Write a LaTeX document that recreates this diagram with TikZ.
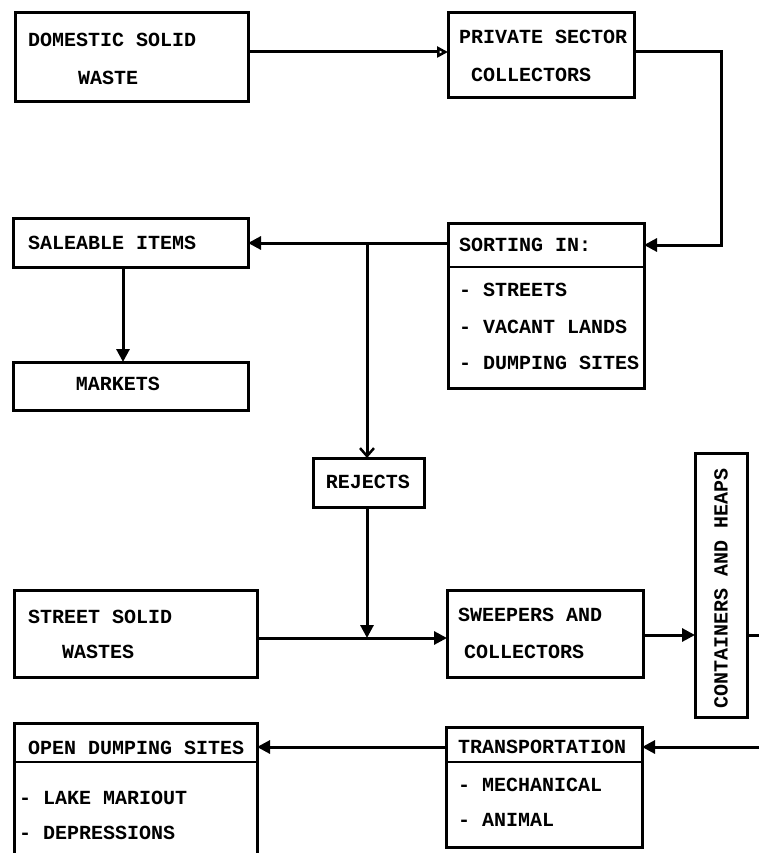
\documentclass[tikz,border=0pt]{standalone}
\usepackage{fontspec}
\newfontfamily\tw{Liberation Mono}
\usetikzlibrary{arrows.meta}
\begin{document}
\begin{tikzpicture}[x=1pt,y=-1pt,
  box/.style={draw, line width=3pt, rectangle, inner sep=0pt, outer sep=0pt},
  txt/.style={anchor=west, inner sep=0pt, font=\tw\bfseries\fontsize{20}{24}\selectfont},
  ctxt/.style={anchor=center, inner sep=0pt, font=\tw\bfseries\fontsize{20}{24}\selectfont},
  conn/.style={line width=3pt},
  farrow/.style={conn, -{Triangle[length=13pt,width=13pt]}},
  oarrow/.style={conn, -{Triangle[open,length=11pt,width=11pt,line width=2.5pt]}},
  varrow/.style={conn, -{Straight Barb[length=8pt,width=14pt,line width=2.5pt]}},
  sep/.style={line width=2.5pt}
]
\useasboundingbox (0,0) rectangle (759,853);
\clip (0,0) rectangle (759,853);

% boxes
\node[box, minimum width=233pt, minimum height=89pt] (dom) at (131.5,57.5) {};
\node[box, minimum width=186pt, minimum height=85pt] (priv) at (541,55.5) {};
\node[box, minimum width=235pt, minimum height=49pt] (sal) at (130.5,242.5) {};
\node[box, minimum width=235pt, minimum height=48pt] (mkt) at (130.5,386) {};
\node[box, minimum width=196pt, minimum height=165pt] (sort) at (546,305.5) {};
\node[box, minimum width=111pt, minimum height=49pt] (rej) at (368.5,482.5) {};
\node[box, minimum width=243pt, minimum height=87pt] (street) at (135.5,633.5) {};
\node[box, minimum width=196pt, minimum height=87pt] (sweep) at (545,633.5) {};
\node[box, minimum width=52pt, minimum height=264pt] (cont) at (721,585) {};
\node[box, minimum width=243pt, minimum height=157pt] (open) at (135.5,801.5) {};
\node[box, minimum width=196pt, minimum height=120pt] (trans) at (544,787) {};

% separators
\draw[sep] (sort.west |- 0,267) -- (sort.east |- 0,267);
\draw[sep] (open.west |- 0,762) -- (open.east |- 0,762);
\draw[sep] (trans.west |- 0,762) -- (trans.east |- 0,762);

% texts
\node[txt] (t1) at (28,40) {DOMESTIC SOLID};
\node[txt] (t2) at (78,78) {WASTE};
\node[txt] (t3) at (459,37) {PRIVATE SECTOR};
\node[txt] (t4) at (471,75) {COLLECTORS};
\node[txt] (t5) at (28,243) {SALEABLE ITEMS};
\node[ctxt] (t6) at (118,384) {MARKETS};
\node[txt] (t7) at (459,245) {SORTING IN:};
\node[txt] (t8) at (459,290) {- STREETS};
\node[txt] (t9) at (459,327) {- VACANT LANDS};
\node[txt] (t10) at (459,363) {- DUMPING SITES};
\node[ctxt] (t11) at (368,482) {REJECTS};
\node[txt] (t12) at (28,617) {STREET SOLID};
\node[txt] (t13) at (62,652) {WASTES};
\node[txt] (t14) at (458,615) {SWEEPERS AND};
\node[txt] (t15) at (464,652) {COLLECTORS};
\node[ctxt, rotate=90] (t16) at (721,588) {CONTAINERS AND HEAPS};
\node[txt] (t17) at (28,748) {OPEN DUMPING SITES};
\node[txt] (t18) at (19,798) {- LAKE MARIOUT};
\node[txt] (t19) at (19,833) {- DEPRESSIONS};
\node[txt] (t20) at (458,747) {TRANSPORTATION};
\node[txt] (t21) at (458,785) {- MECHANICAL};
\node[txt] (t22) at (458,820) {- ANIMAL};

% helper coordinates
\coordinate (a1) at (248,52);
\coordinate (a2) at (634,52);
\coordinate (a3) at (721,52);
\coordinate (a4) at (721,245);
\coordinate (a5) at (448,243);
\coordinate (j1) at (367,243);
\coordinate (j2) at (367,638);
\coordinate (a6) at (257,638);
\coordinate (a7) at (643,635);
\coordinate (e1) at (760,635);
\coordinate (e2) at (760,747);
\coordinate (a8) at (446,747);

% connectors
\draw[oarrow] (a1) -- (a1 -| priv.west);
\draw[farrow] (a2) -- (a3) -- (a4) -- (a4 -| sort.east);
\draw[farrow] (a5) -- (a5 -| sal.east);
\draw[farrow] (sal.south -| 123,0) -- (mkt.north -| 123,0);
\draw[varrow] (j1) -- (j1 |- rej.north);
\draw[farrow] (j2 |- rej.south) -- (j2);
\draw[farrow] (a6) -- (a6 -| sweep.west);
\draw[farrow] (a7) -- (a7 -| cont.west);
\draw[conn] (cont.east |- e1) -- (e1);
\draw[farrow] (e2) -- (e2 -| trans.east);
\draw[farrow] (a8) -- (a8 -| open.east);
\end{tikzpicture}
\end{document}
